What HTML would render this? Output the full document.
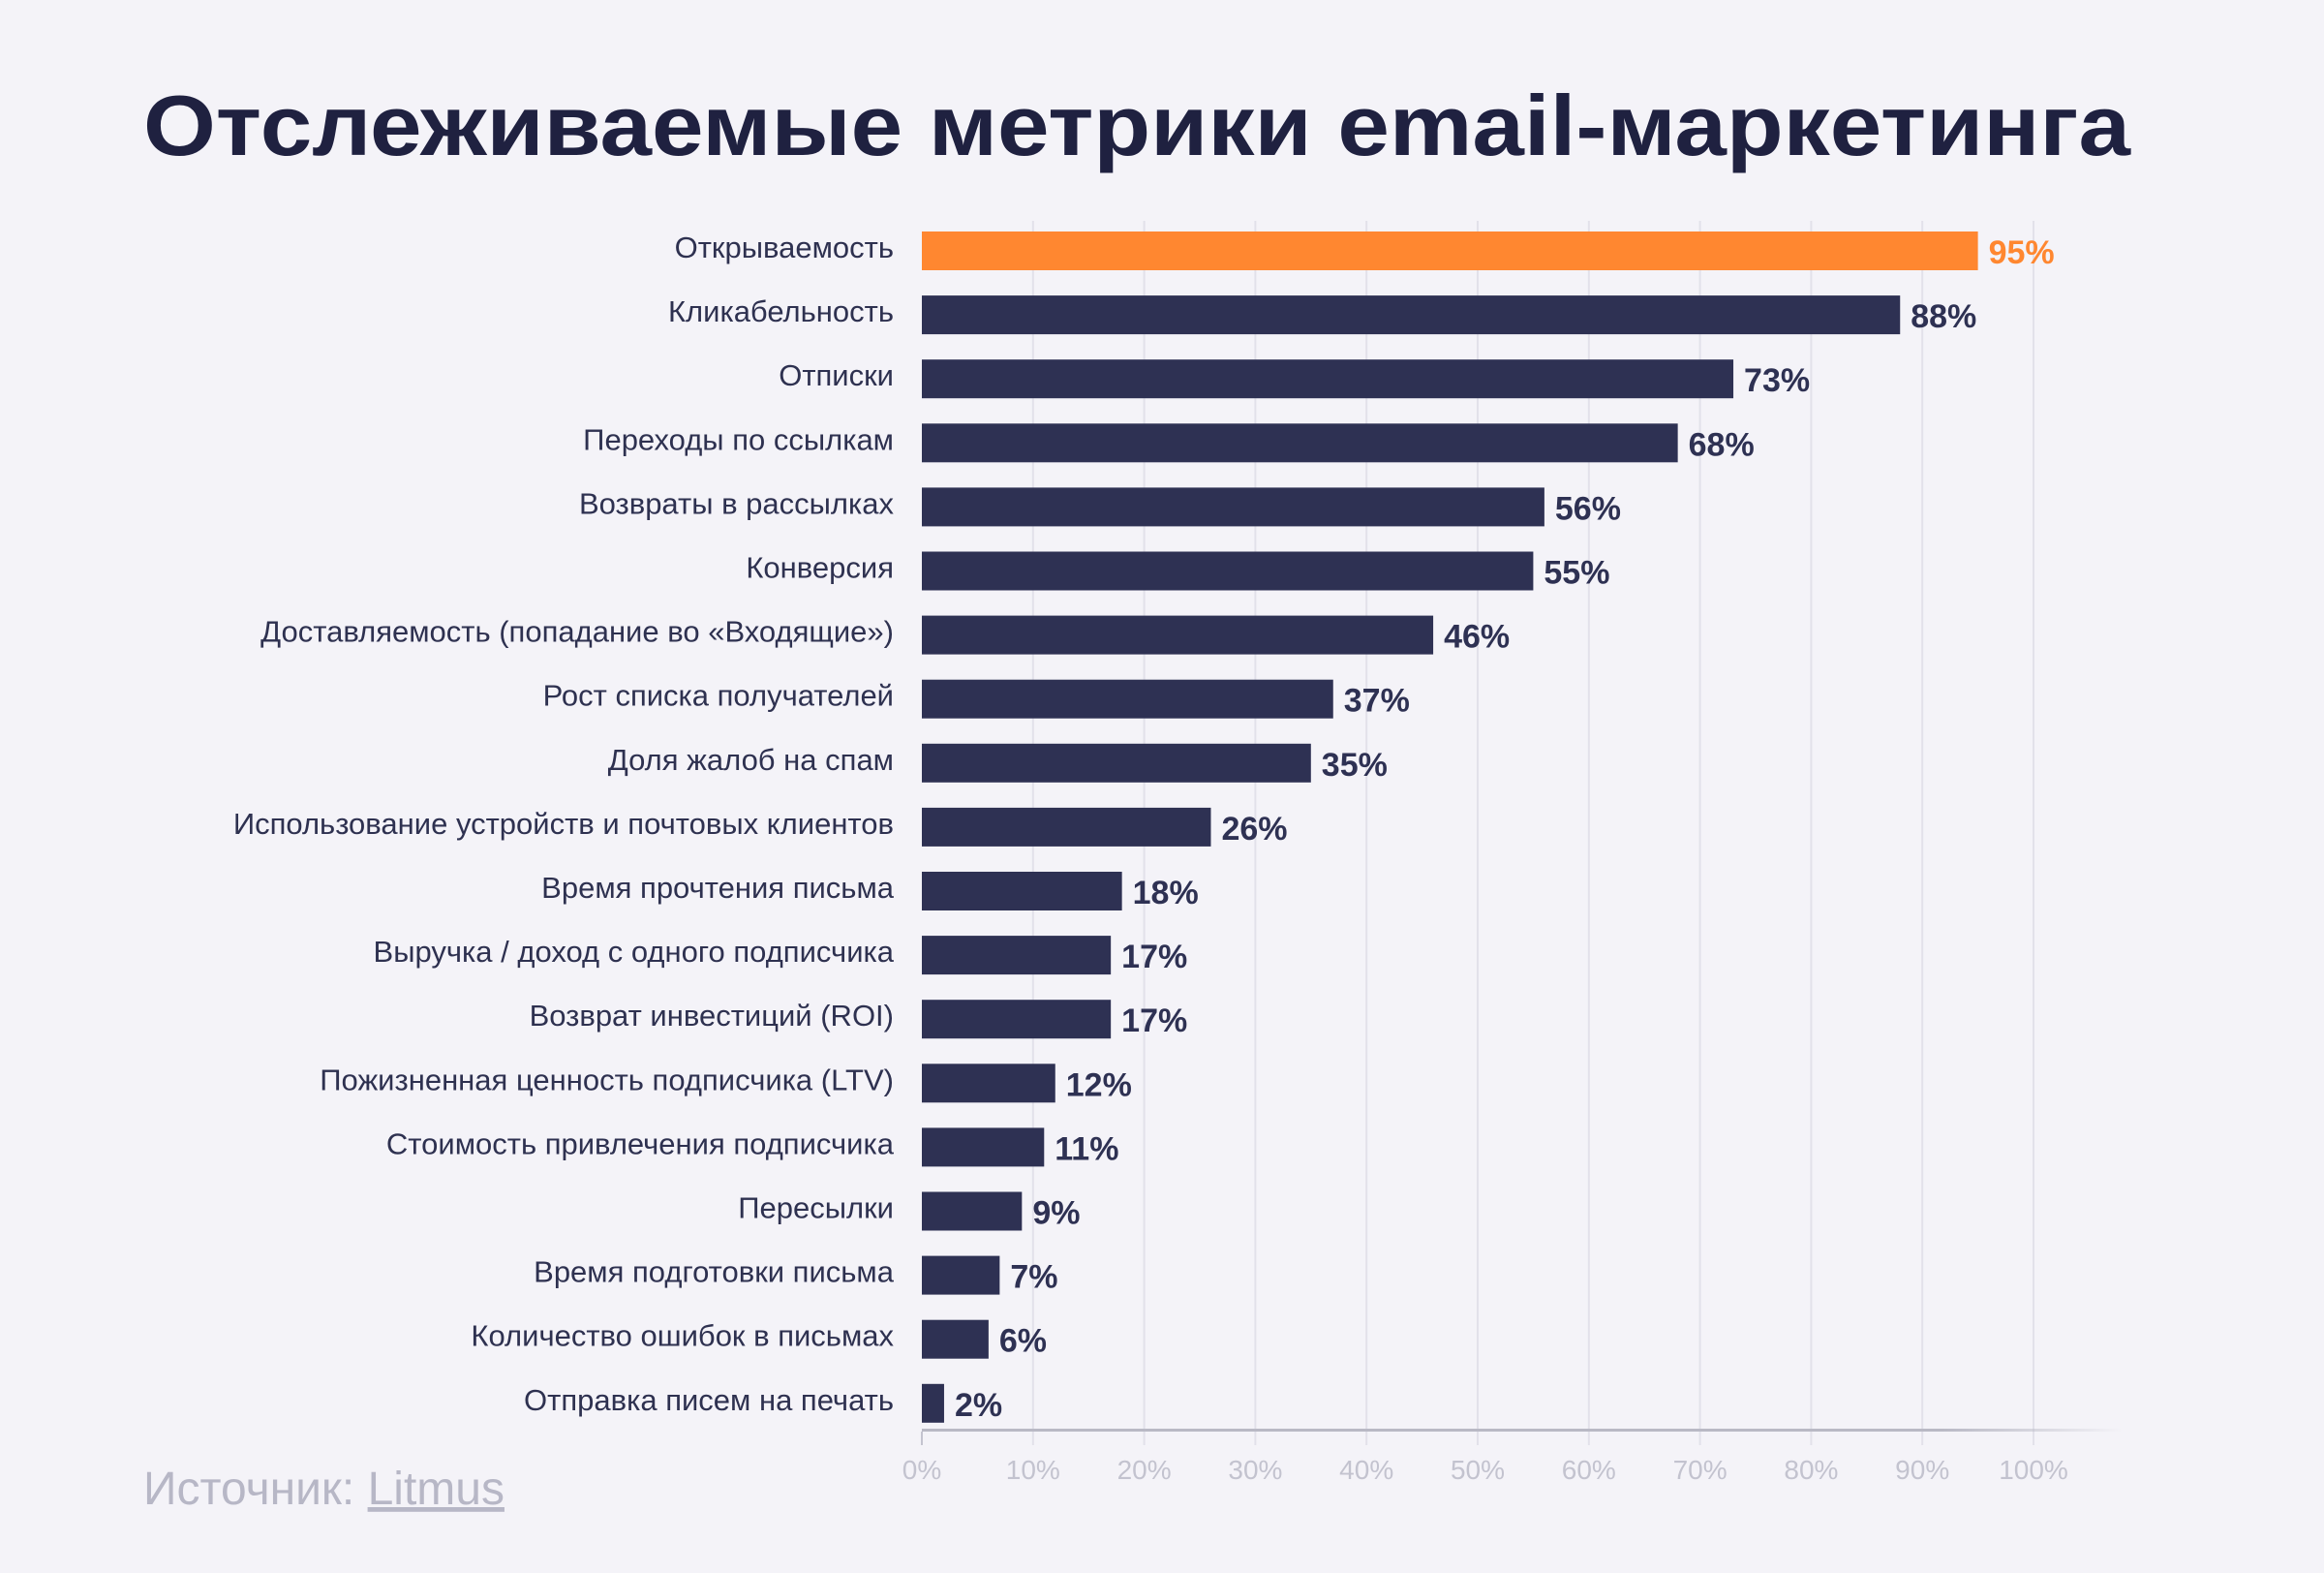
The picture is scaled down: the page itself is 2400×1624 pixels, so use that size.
<!DOCTYPE html>
<html><head><meta charset="utf-8">
<style>
html,body{margin:0;padding:0;background:#f4f3f8;}
svg{display:block;font-family:"Liberation Sans",sans-serif;}
</style></head>
<body>
<svg id="chart" width="2400" height="1624" viewBox="0 0 2400 1624" xmlns="http://www.w3.org/2000/svg">
<defs>
<linearGradient id="axfade" x1="0" x2="1" y1="0" y2="0">
<stop offset="0.85" stop-color="#b9b9c5"/><stop offset="1" stop-color="#b9b9c5" stop-opacity="0"/>
</linearGradient>
</defs>
<rect width="2400" height="1624" fill="#f4f3f8"/>
<text x="148" y="160" font-size="88" font-weight="bold" fill="#1f2140" textLength="2052" lengthAdjust="spacingAndGlyphs">Отслеживаемые метрики email-маркетинга</text>
<g id="grid"></g>
<g id="bars"></g>
<rect x="952" y="1475" width="1240" height="3" fill="url(#axfade)"/>
<g id="ticks"></g>
<text x="148" y="1553" font-size="48" fill="#b7b7c6">Источник: <tspan text-decoration="underline">Litmus</tspan></text>
</svg>
<script>
const categories = ["Открываемость","Кликабельность","Отписки","Переходы по ссылкам","Возвраты в рассылках","Конверсия","Доставляемость (попадание во «Входящие»)","Рост списка получателей","Доля жалоб на спам","Использование устройств и почтовых клиентов","Время прочтения письма","Выручка / доход с одного подписчика","Возврат инвестиций (ROI)","Пожизненная ценность подписчика (LTV)","Стоимость привлечения подписчика","Пересылки","Время подготовки письма","Количество ошибок в письмах","Отправка писем на печать"];
const values = [95,88,73,68,56,55,46,37,35,26,18,17,17,12,11,9,7,6,2];
const tickValues = [0,10,20,30,40,50,60,70,80,90,100];
const tickLabels = ["0%","10%","20%","30%","40%","50%","60%","70%","80%","90%","100%"];

const NS = "http://www.w3.org/2000/svg";
const x0 = 952, xScale = 11.48;
const x = v => x0 + v * xScale;
const yTop = 239, rowH = 66.1, barH = 40;
const y = i => yTop + i * rowH;

const grid = document.getElementById('grid');
const ticks = document.getElementById('ticks');
tickValues.forEach((t, i) => {
  const l = document.createElementNS(NS, 'line');
  
  
  l.setAttribute('x1', x(t)); l.setAttribute('x2', x(t));
  l.setAttribute('y1', t === 0 ? 1478 : 228); l.setAttribute('y2', 1492);
  l.setAttribute('stroke', t === 0 ? '#c4c4cf' : '#e2e1ea'); l.setAttribute('stroke-width', '2');
  grid.appendChild(l);
  const tx = document.createElementNS(NS, 'text');
  
  
  tx.setAttribute('x', x(t)); tx.setAttribute('y', 1527);
  tx.setAttribute('text-anchor', 'middle'); tx.setAttribute('font-size', '28');
  tx.setAttribute('fill', '#c3c3cf');
  tx.textContent = tickLabels[i];
  ticks.appendChild(tx);
});

const bars = document.getElementById('bars');
categories.forEach((c, i) => {
  const color = i === 0 ? '#ff8730' : '#2e3153';
  const r = document.createElementNS(NS, 'rect');
  
  
  r.setAttribute('x', x(0)); r.setAttribute('y', y(i));
  r.setAttribute('width', x(values[i]) - x(0)); r.setAttribute('height', barH);
  r.setAttribute('fill', color);
  bars.appendChild(r);
  const lb = document.createElementNS(NS, 'text');
  
  
  lb.setAttribute('x', 923); lb.setAttribute('y', y(i) + 27);
  lb.setAttribute('text-anchor', 'end'); lb.setAttribute('font-size', '31');
  lb.setAttribute('fill', '#2e3150');
  lb.textContent = c;
  bars.appendChild(lb);
  const vl = document.createElementNS(NS, 'text');
  
  
  vl.setAttribute('x', x(values[i]) + 11); vl.setAttribute('y', y(i) + 33);
  vl.setAttribute('font-size', '34'); vl.setAttribute('font-weight', 'bold');
  vl.setAttribute('fill', color);
  vl.textContent = values[i] + '%';
  bars.appendChild(vl);
});
</script>
</body></html>
